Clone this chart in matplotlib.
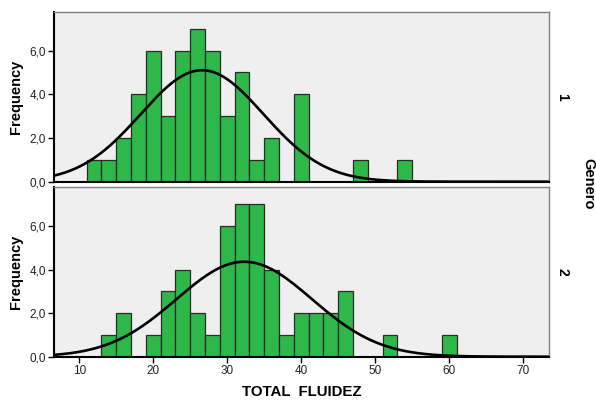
import matplotlib.pyplot as plt
import numpy as np
from matplotlib.ticker import FuncFormatter

plt.rcParams["font.family"] = ["Liberation Sans", "DejaVu Sans"]

# Histogram bins (width 2, centres at even values)
bin_centers = [12, 14, 16, 18, 20, 22, 24, 26, 28, 30, 32, 34, 36, 38, 40,
               42, 44, 46, 48, 50, 52, 54, 56, 58, 60]

# Frequencies for Genero 1 and Genero 2
freq_g1 = [1, 1, 2, 4, 6, 3, 6, 7, 6, 3, 5, 1, 2, 0, 4,
           0, 0, 0, 1, 0, 0, 1, 0, 0, 0]
freq_g2 = [0, 1, 2, 0, 1, 3, 4, 2, 1, 6, 7, 7, 4, 1, 2,
           2, 2, 3, 0, 0, 1, 0, 0, 0, 1]

# Normal curve parameters (mean, std, N)
norm_g1 = (26.6, 8.29, 53)
norm_g2 = (32.3, 9.15, 50)

group_labels = ["1", "2"]
bin_width = 2

fig = plt.figure(figsize=(5.96, 4.0), dpi=100)
ax1 = fig.add_axes([0.0914, 0.5458, 0.8292, 0.4250])
ax2 = fig.add_axes([0.0914, 0.1083, 0.8292, 0.4235])

comma = FuncFormatter(lambda v, p: f"{v:.1f}".replace(".", ","))
xs = np.linspace(6.65, 73.45, 400)

for ax, freq, (mu, sd, n), lab in zip([ax1, ax2], [freq_g1, freq_g2],
                                      [norm_g1, norm_g2], group_labels):
    ax.set_facecolor("#efefef")
    ax.bar(bin_centers, freq, width=bin_width, color="#2fb84a",
           edgecolor="#2a2a2a", linewidth=0.9, zorder=2)
    curve = n * bin_width / (sd * np.sqrt(2 * np.pi)) * np.exp(-0.5 * ((xs - mu) / sd) ** 2)
    ax.plot(xs, curve, color="black", linewidth=1.9, zorder=3)

    ax.set_xlim(6.65, 73.45)
    ax.set_ylim(0, 7.78)
    ax.set_yticks([0, 2, 4, 6])
    ax.yaxis.set_major_formatter(comma)
    ax.tick_params(axis="y", direction="out", length=4, width=1,
                   labelsize=8.5, colors="black", labelcolor="#222222", pad=2)
    ax.set_ylabel("Frequency", fontsize=10.5, fontweight="bold", labelpad=5)

    for side in ["top", "right"]:
        ax.spines[side].set_color("#808080")
        ax.spines[side].set_linewidth(1)
    for side in ["left", "bottom"]:
        ax.spines[side].set_color("black")
        ax.spines[side].set_linewidth(1.5)

    ax.text(1.027, 0.5, lab, transform=ax.transAxes, rotation=-90,
            ha="center", va="center", fontsize=10, fontweight="bold")

ax1.set_xticks([])
ax2.set_xticks([10, 20, 30, 40, 50, 60, 70])
ax2.tick_params(axis="x", direction="out", length=4, width=1,
                labelsize=8.5, labelcolor="#222222", pad=2)
ax2.set_xlabel("TOTAL  FLUIDEZ", fontsize=10.8, fontweight="bold", labelpad=6)

fig.text(0.988, 0.54, "Genero", rotation=-90, ha="center", va="center",
         fontsize=10.5, fontweight="bold")

fig.savefig("out.png", dpi=100)
